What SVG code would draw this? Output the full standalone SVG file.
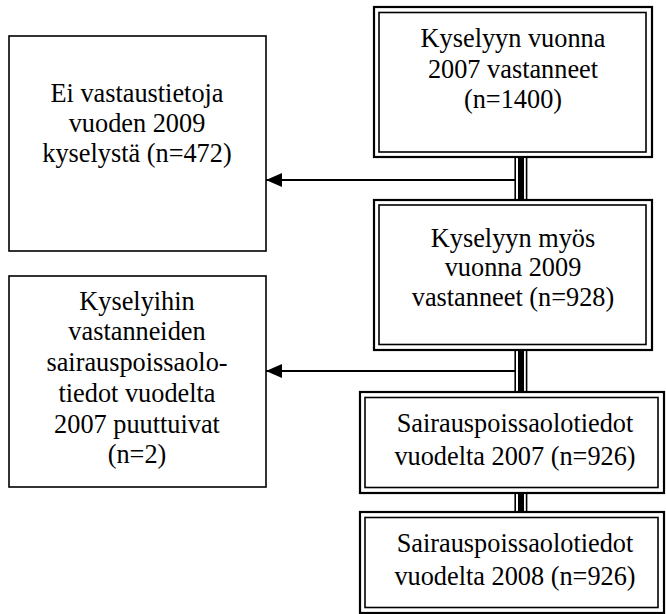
<svg xmlns="http://www.w3.org/2000/svg" width="666" height="614" viewBox="0 0 666 614">
<defs>
<style>
.outer{fill:none;stroke:#000;stroke-width:2.2}
.inner{fill:none;stroke:#000;stroke-width:1.6}
.single{fill:#fff;stroke:#000;stroke-width:1.6}
text{font-family:'Liberation Serif','Times New Roman',serif;font-size:26.3px;fill:#000;text-anchor:middle}
.thin{stroke:#000;stroke-width:1.6}
.thick{stroke:#000;stroke-width:6}
.arrow{stroke:#000;stroke-width:1.8;fill:none}
</style>
<marker id="ah" markerWidth="16" markerHeight="14" refX="16" refY="7" orient="auto" markerUnits="userSpaceOnUse">
<path d="M0,0 L16,7 L0,14 Z" fill="#000"/>
</marker>
</defs>
<rect width="666" height="614" fill="#fff"/>
<g id="connectors">
<g>
<line class="thin" x1="515.2" y1="157" x2="515.2" y2="200"/>
<line class="thick" x1="521" y1="157" x2="521" y2="200"/>
<line class="thin" x1="526.6" y1="157" x2="526.6" y2="200"/>
</g>
<g>
<line class="thin" x1="515.2" y1="350" x2="515.2" y2="392"/>
<line class="thick" x1="521" y1="350" x2="521" y2="392"/>
<line class="thin" x1="526.6" y1="350" x2="526.6" y2="392"/>
</g>
<g>
<line class="thin" x1="515.2" y1="493" x2="515.2" y2="512"/>
<line class="thick" x1="521" y1="493" x2="521" y2="512"/>
<line class="thin" x1="526.6" y1="493" x2="526.6" y2="512"/>
</g>
<line class="arrow" x1="515" y1="180" x2="266" y2="180" marker-end="url(#ah)"/>
<line class="arrow" x1="515" y1="371" x2="266" y2="371" marker-end="url(#ah)"/>
</g>
<g id="box1">
<rect class="outer" x="374" y="7" width="278" height="150"/>
<rect class="inner" x="379" y="12.5" width="267" height="139.5"/>
<text x="513" y="47">Kyselyyn vuonna</text>
<text x="513" y="78">2007 vastanneet</text>
<text x="513" y="108">(n=1400)</text>
</g>
<g id="box2">
<rect class="outer" x="374" y="200" width="278" height="150"/>
<rect class="inner" x="379" y="205" width="267" height="139.5"/>
<text x="513" y="247">Kyselyyn myös</text>
<text x="513" y="276">vuonna 2009</text>
<text x="513" y="306">vastanneet (n=928)</text>
</g>
<g id="box3">
<rect class="outer" x="360" y="392" width="304" height="101"/>
<rect class="inner" x="365" y="397.5" width="293" height="90"/>
<text x="515" y="432">Sairauspoissaolotiedot</text>
<text x="515" y="465">vuodelta 2007 (n=926)</text>
</g>
<g id="box4">
<rect class="outer" x="360" y="512" width="304" height="101"/>
<rect class="inner" x="365" y="517.5" width="293" height="90"/>
<text x="515" y="552">Sairauspoissaolotiedot</text>
<text x="515" y="585">vuodelta 2008 (n=926)</text>
</g>
<g id="left1">
<rect class="single" x="9" y="36" width="257" height="215"/>
<text x="137" y="102">Ei vastaustietoja</text>
<text x="137" y="132">vuoden 2009</text>
<text x="137" y="162">kyselystä (n=472)</text>
</g>
<g id="left2">
<rect class="single" x="9" y="276" width="257" height="211"/>
<text x="137" y="310">Kyselyihin</text>
<text x="137" y="340">vastanneiden</text>
<text x="137" y="371">sairauspoissaolo-</text>
<text x="137" y="402">tiedot vuodelta</text>
<text x="137" y="433">2007 puuttuivat</text>
<text x="137" y="463">(n=2)</text>
</g>
</svg>
